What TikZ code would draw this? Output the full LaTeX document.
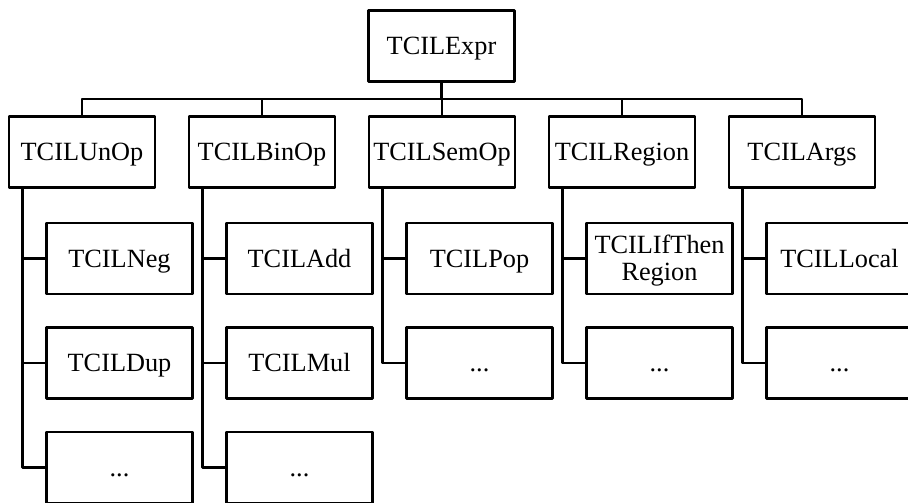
\documentclass[tikz,border=0pt]{standalone}
\usepackage{fontspec}
\setmainfont{Liberation Serif}
\begin{document}
\begin{tikzpicture}[x=1pt,y=-1pt,line width=2.9pt,line join=round,
	box/.style={draw,minimum width=146pt,minimum height=71pt,inner sep=0pt,align=center,
		text height=17.4pt,text depth=0pt,font=\fontsize{26.3}{27}\selectfont}]
				\useasboundingbox (0,0) rectangle (908,503);
				%\draw[thin,color=gray!50] (0,0) grid[step=50] (908,503);
				\node[box] (expr) at (441.5,46) {TCILExpr};
				% second level
				\node[box] (unop) at (82,152) {TCILUnOp};
				\node[box] (binop) at (262,152) {TCILBinOp};
				\node[box] (semop) at (442,152) {TCILSemOp};
				\node[box] (region) at (622,152) {TCILRegion};
				\node[box] (args) at (802,152) {TCILArgs};
				\foreach \c in {unop,binop,semop,region,args}
					\draw (expr.south) -- ++(0,16) -| (\c.north);
				% third level
				\node[box] (neg) at (119.5,258.5) {TCILNeg};
				\node[box] (dup) at (119.5,363) {TCILDup};
				\node[box] (unmore) at (119.5,467.5) {...};
				\node[box] (add) at (299.5,258.5) {TCILAdd};
				\node[box] (mul) at (299.5,363) {TCILMul};
				\node[box] (binmore) at (299.5,467.5) {...};
				\node[box] (pop) at (479.5,258.5) {TCILPop};
				\node[box] (semmore) at (479.5,363) {...};
				\node[box,text height=44.4pt] (ifthen) at (659.5,258.5) {TCILIfThen\\Region};
				\node[box] (regmore) at (659.5,363) {...};
				\node[box] (local) at (839.5,258.5) {TCILLocal};
				\node[box] (argmore) at (839.5,363) {...};
				\draw ([xshift=15pt]unop.south west) |- (neg.west);
				\draw ([xshift=15pt]unop.south west) |- (dup.west);
				\draw ([xshift=15pt]unop.south west) |- (unmore.west);
				\draw ([xshift=15pt]binop.south west) |- (add.west);
				\draw ([xshift=15pt]binop.south west) |- (mul.west);
				\draw ([xshift=15pt]binop.south west) |- (binmore.west);
				\draw ([xshift=15pt]semop.south west) |- (pop.west);
				\draw ([xshift=15pt]semop.south west) |- (semmore.west);
				\draw ([xshift=15pt]region.south west) |- (ifthen.west);
				\draw ([xshift=15pt]region.south west) |- (regmore.west);
				\draw ([xshift=15pt]args.south west) |- (local.west);
				\draw ([xshift=15pt]args.south west) |- (argmore.west);
		\end{tikzpicture}
\end{document}
